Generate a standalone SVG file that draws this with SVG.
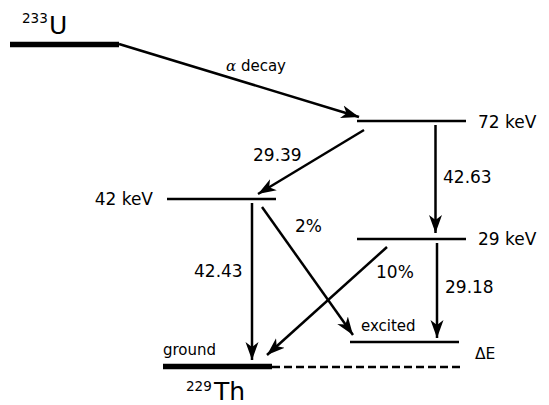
<svg xmlns="http://www.w3.org/2000/svg" width="549" height="405" viewBox="0 0 549 405">
<style>
text{font-family:"DejaVu Sans","Verdana",sans-serif;fill:#000}
.lbl{font-size:17px}
.small{font-size:15px}
.lvl{stroke:#000;stroke-width:2.5;fill:none}
.bold{stroke:#000;stroke-width:5.5;fill:none}
.arr{stroke:#000;stroke-width:2.5;fill:none;marker-end:url(#ah)}
</style>
<defs>
<marker id="ah" markerUnits="userSpaceOnUse" markerWidth="20" markerHeight="16" viewBox="-18 -8 20 16" refX="0" refY="0" orient="auto">
<path d="M0,0 L-18,-6.5 L-13,0 L-18,6.5 Z" fill="#000"/>
</marker>
</defs>
<rect width="549" height="405" fill="#fff"/>
<g id="u233">
<line class="bold" x1="10" y1="44.5" x2="119" y2="44.5"/>
<text x="22" y="23" style="font-size:13.5px">233</text>
<text x="49" y="34" style="font-size:25px">U</text>
</g>
<g id="lvl72">
<line class="lvl" x1="357" y1="121" x2="466" y2="121"/>
<text class="lbl" x="478" y="128">72 keV</text>
</g>
<g id="lvl42">
<line class="lvl" x1="167" y1="199" x2="276" y2="199"/>
<text class="lbl" x="153" y="205" text-anchor="end">42 keV</text>
</g>
<g id="lvl29">
<line class="lvl" x1="357" y1="239" x2="466" y2="239"/>
<text class="lbl" x="478" y="245">29 keV</text>
</g>
<g id="excited">
<line class="lvl" x1="350" y1="342" x2="459" y2="342"/>
<text class="small" x="361" y="331">excited</text>
</g>
<g id="ground">
<line class="bold" x1="163" y1="366.5" x2="272" y2="366.5"/>
<line class="lvl" x1="272" y1="367" x2="461" y2="367" stroke-dasharray="8,4"/>
<text class="small" x="163" y="355">ground</text>
<text x="186" y="391" style="font-size:13.5px">229</text>
<text x="214" y="400" style="font-size:25px">Th</text>
</g>
<g id="deltaE">
<text x="475" y="359" style="font-size:15.5px">ΔE</text>
</g>
<g id="connectors">
<line class="arr" x1="119" y1="44" x2="359" y2="117"/>
<line class="arr" x1="364" y1="130" x2="258" y2="194"/>
<line class="arr" x1="435.5" y1="125" x2="435.5" y2="233"/>
<line class="arr" x1="252" y1="203" x2="252" y2="360"/>
<line class="arr" x1="262" y1="207" x2="353" y2="335"/>
<line class="arr" x1="387" y1="247" x2="267" y2="355"/>
<line class="arr" x1="437" y1="243" x2="437" y2="338"/>
</g>
<g id="labels">
<text x="226" y="71" style="font-size:15px"><tspan style="font-family:'DejaVu Serif',serif;font-style:italic">α</tspan> decay</text>
<text class="lbl" x="253" y="161">29.39</text>
<text class="lbl" x="443" y="183">42.63</text>
<text class="lbl" x="295" y="232">2%</text>
<text class="lbl" x="194" y="277">42.43</text>
<text class="lbl" x="376" y="278">10%</text>
<text class="lbl" x="445" y="293">29.18</text>
</g>
</svg>
